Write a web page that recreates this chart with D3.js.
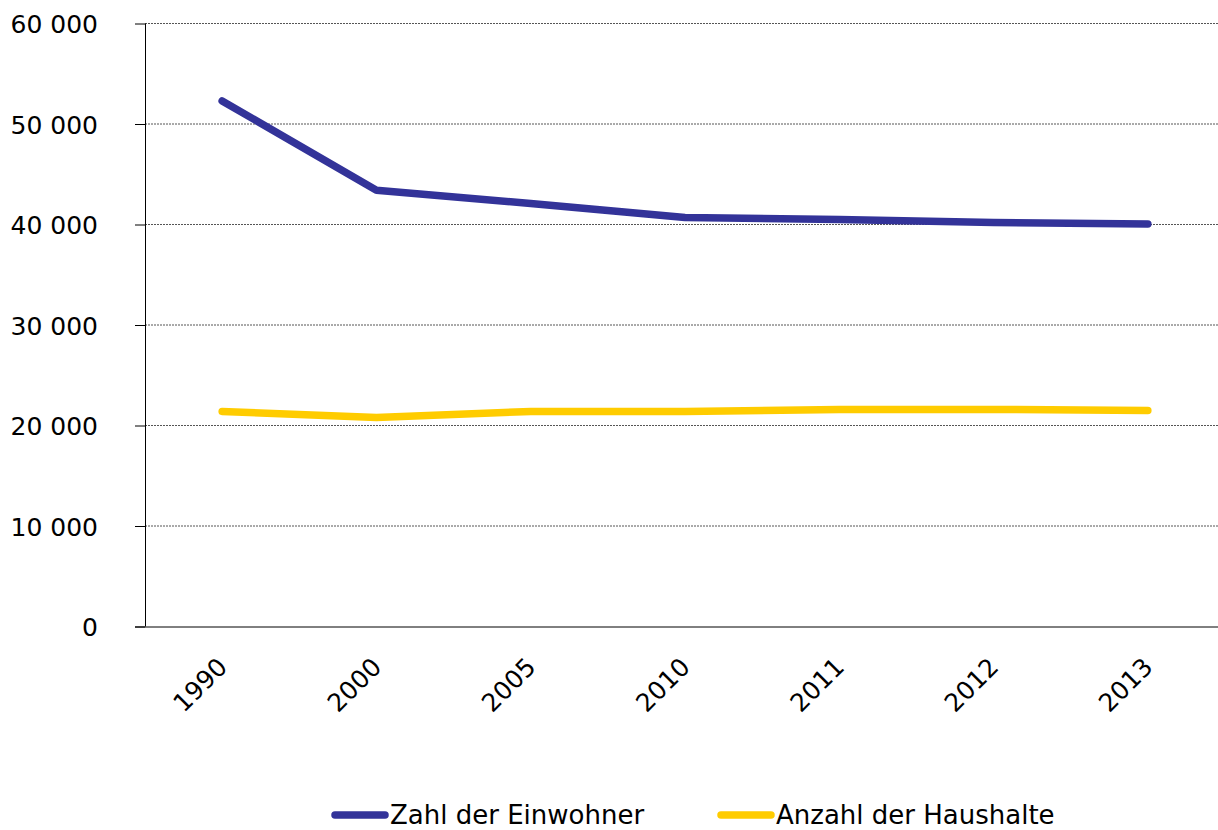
<!DOCTYPE html>
<html>
<head>
    <meta charset="utf-8">
    <title>Einwohner und Haushalte</title>
    <script src="https://d3js.org/d3.v7.min.js"></script>
    <style>
        body { margin: 0; background: #fff; }
        text { font-family: "DejaVu Sans", sans-serif; fill: #000; }
    </style>
</head>
<body>
<div id="chart"></div>
<script>
    // data
    var years = ["1990", "2000", "2005", "2010", "2011", "2012", "2013"];
    var einwohner = [52300, 43400, 42100, 40700, 40500, 40200, 40050];
    var haushalte = [21400, 20800, 21400, 21400, 21600, 21600, 21500];
    var yTicks = [0, 10000, 20000, 30000, 40000, 50000, 60000];
    var seriesNames = ["Zahl der Einwohner", "Anzahl der Haushalte"];

    var blue = "#333399";
    var yellow = "#FFCC00";

    var W = 1218, H = 830;
    var plotLeft = 145, plotRight = 1225, plotTop = 23.5, plotBottom = 626.5;

    var svg = d3.select("#chart").append("svg")
        .attr("width", W)
        .attr("height", H);

    var x = d3.scalePoint()
        .domain(years)
        .range([plotLeft, plotRight])
        .padding(0.5);

    var y = d3.scaleLinear()
        .domain([0, 60000])
        .range([plotBottom, plotTop]);

    // gridlines
    svg.append("g")
        .selectAll("line")
        .data(yTicks.filter(d => d > 0))
        .join("line")
        .attr("x1", plotLeft)
        .attr("x2", plotRight)
        .attr("y1", d => y(d))
        .attr("y2", d => y(d))
        .attr("stroke", "#555")
        .attr("stroke-width", 1)
        .attr("stroke-dasharray", "2,1");

    // y axis
    var fmt = d => d === 0 ? "0" : d3.format(",")(d).replace(",", " ");
    var yAxis = svg.append("g")
        .attr("transform", `translate(${plotLeft},0)`)
        .call(d3.axisLeft(y).tickValues(yTicks).tickSize(10).tickPadding(37).tickFormat(fmt));
    yAxis.select(".domain").attr("d", `M0.5,${plotTop}V${plotBottom}`).attr("stroke", "#000");
    yAxis.selectAll(".tick line").attr("stroke", "#000");
    yAxis.selectAll("text").style("font-size", "25px").attr("dy", "0.36em");

    // x axis
    var xAxis = svg.append("g")
        .attr("transform", `translate(0,${plotBottom})`)
        .call(d3.axisBottom(x).tickSize(0).tickPadding(0));
    xAxis.select(".domain").attr("d", `M${plotLeft - 10},0.5H${plotRight}`).attr("stroke", "#000");
    xAxis.selectAll("text")
        .style("font-size", "25px")
        .attr("text-anchor", "end")
        .attr("dy", "0")
        .attr("transform", "translate(6,42) rotate(-45)");

    // lines
    var line = d3.line()
        .x((d, i) => x(years[i]))
        .y(d => y(d));

    svg.append("path")
        .datum(haushalte)
        .attr("d", line)
        .attr("fill", "none")
        .attr("stroke", yellow)
        .attr("stroke-width", 7.5)
        .attr("stroke-linecap", "round")
        .attr("stroke-linejoin", "round");

    svg.append("path")
        .datum(einwohner)
        .attr("d", line)
        .attr("fill", "none")
        .attr("stroke", blue)
        .attr("stroke-width", 7.5)
        .attr("stroke-linecap", "round")
        .attr("stroke-linejoin", "round");

    // legend
    var legendX = [335, 721];
    var colors = [blue, yellow];
    var legend = svg.append("g");
    seriesNames.forEach(function (name, i) {
        legend.append("line")
            .attr("x1", legendX[i]).attr("x2", legendX[i] + 50)
            .attr("y1", 815).attr("y2", 815)
            .attr("stroke", colors[i])
            .attr("stroke-width", 7.5)
            .attr("stroke-linecap", "round");
        legend.append("text")
            .attr("x", legendX[i] + 55)
            .attr("y", 824)
            .style("font-size", "26px")
            .text(name);
    });
</script>
</body>
</html>
